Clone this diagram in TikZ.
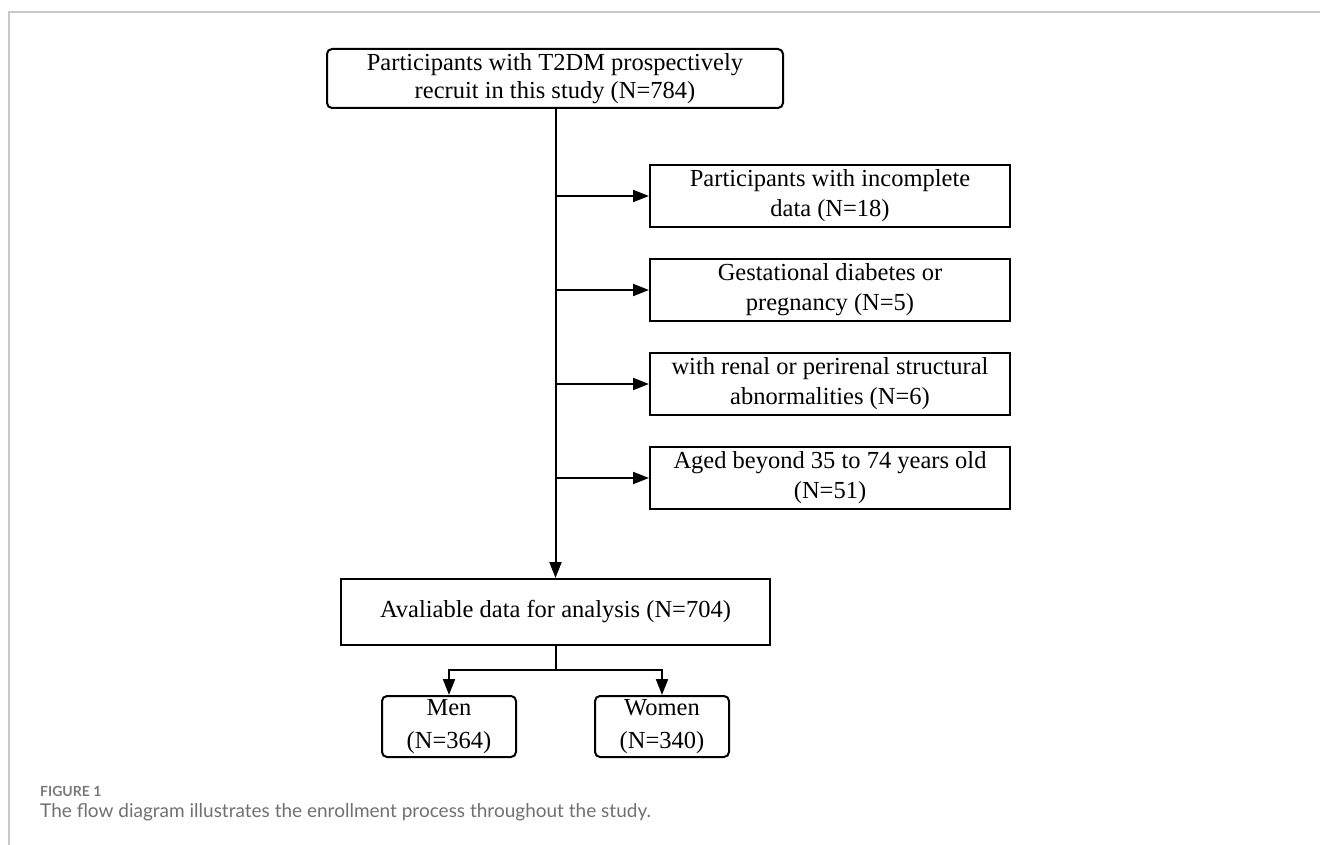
\documentclass[tikz,border=0pt]{standalone}
\usepackage{fontspec}
\setmainfont{Liberation Serif}
\newfontfamily\capfont{Lato}
\usetikzlibrary{arrows.meta}
\definecolor{capgray}{HTML}{707070}
\definecolor{figgray}{HTML}{7A7A7A}
\definecolor{framegray}{HTML}{C8C8C8}
\begin{document}
\begin{tikzpicture}[x=1pt,y=-1pt,
  box/.style={draw, line width=2pt, align=center, inner sep=0pt, font=\fontsize{24.5}{30}\selectfont},
  rbox/.style={box, rounded corners=5pt},
  conn/.style={line width=2pt},
  arr/.style={conn, -{Triangle[length=16pt,width=12pt]}},
  captext/.style={anchor=base west, inner sep=0pt, text=capgray},
]
\useasboundingbox (0,0) rectangle (1320,845);
\draw[framegray, line width=1.2pt] (9,845) -- (9,12) -- (1320,12);

\node[rbox, minimum width=456pt, minimum height=59pt, font=\fontsize{24.5}{28}\selectfont] (top) at (555,78.5)
  {Participants with T2DM prospectively\\recruit in this study (N=784)};

\node[box, minimum width=360pt, minimum height=62pt] (e1) at (830,196)
  {Participants with incomplete\\data (N=18)};
\node[box, minimum width=360pt, minimum height=62pt] (e2) at (830,290)
  {Gestational diabetes or\\pregnancy (N=5)};
\node[box, minimum width=360pt, minimum height=62pt] (e3) at (830,384)
  {with renal or perirenal structural\\abnormalities (N=6)};
\node[box, minimum width=360pt, minimum height=62pt] (e4) at (830,478)
  {Aged beyond 35 to 74 years old\\(N=51)};

\node[box, minimum width=429pt, minimum height=66pt] (avail) at (555.5,612)
  {Avaliable data for analysis (N=704)};

\node[rbox, minimum width=134pt, minimum height=61pt, font=\fontsize{24.5}{33}\selectfont] (men) at (449,726.5)
  {Men\\(N=364)};
\node[rbox, minimum width=134pt, minimum height=61pt, font=\fontsize{24.5}{33}\selectfont] (women) at (662,726.5)
  {Women\\(N=340)};

\coordinate (t) at (top.south -| avail.north);
\draw[arr] (t) -- (avail.north);
\foreach \e in {e1,e2,e3,e4}{
  \draw[arr] (\e.west -| avail.north) -- (\e.west);
}
\coordinate (split) at (555.5,670);
\draw[conn] (avail.south) -- (split);
\draw[arr] (split) -| (men.north);
\draw[arr] (split) -| (women.north);

\node[captext, text=figgray, font=\capfont\bfseries\fontsize{14}{16}\selectfont] (fig) at (40,796) {FIGURE 1};
\node[captext, font=\capfont\fontsize{19}{22}\selectfont] (cap) at (40,817)
  {The flow diagram illustrates the enrollment process throughout the study.};
\end{tikzpicture}
\end{document}
